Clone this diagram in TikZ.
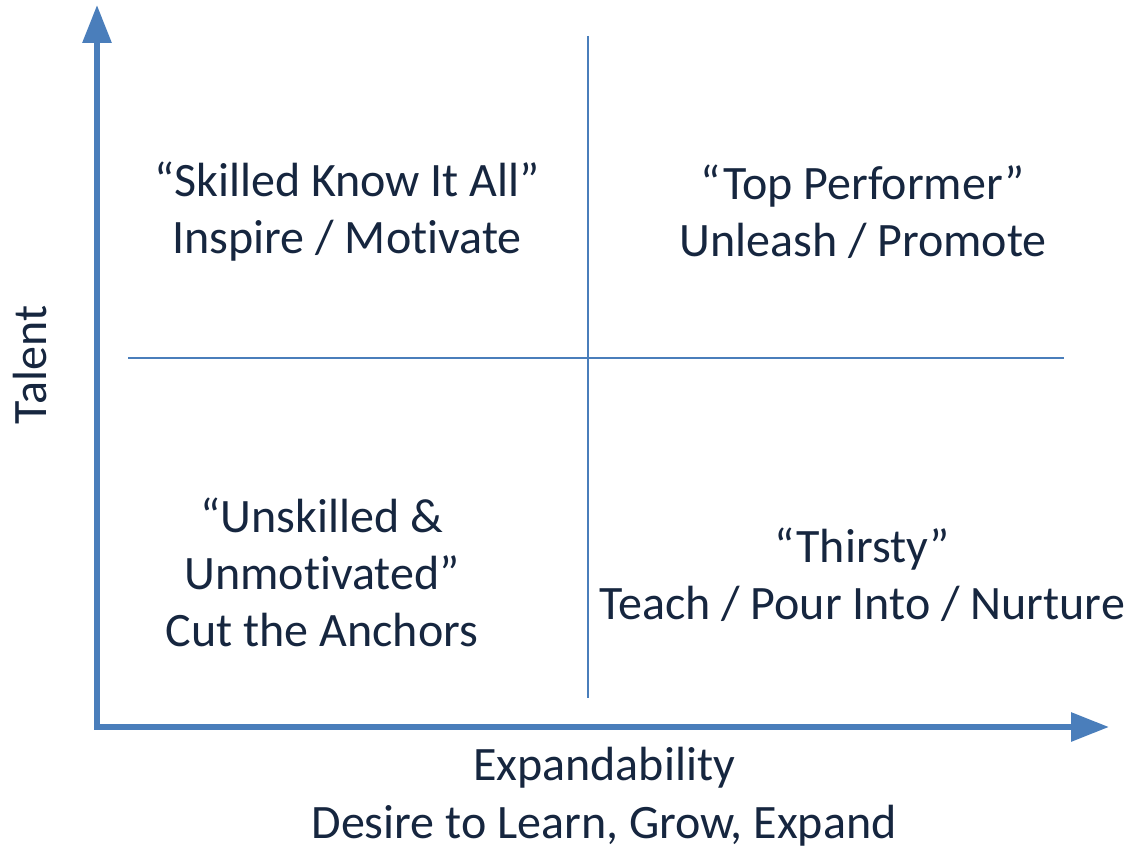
\documentclass[tikz,border=0pt]{standalone}
\usepackage{fontspec}
\setmainfont{Carlito}[Ligatures={NoCommon}]
\usetikzlibrary{arrows.meta}
\definecolor{AxisBlue}{HTML}{4A7EBB}
\definecolor{LabelNavy}{HTML}{16263F}
\tikzset{
    % Axis and grid lines
    axis/.style={
        line width=6pt,
        draw=AxisBlue,
        {Triangle[width=28pt,length=38pt]}-{Triangle[width=28pt,length=38pt]}
    },
    divider/.style={
        line width=1.6pt,
        draw=AxisBlue
    },
    % Text styles
    quadrant/.style={
        align=center,
        text=LabelNavy,
        inner sep=0pt,
        font=\fontsize{48}{57}\selectfont
    },
    axislabel/.style={
        align=center,
        text=LabelNavy,
        inner sep=0pt,
        font=\fontsize{48}{58}\selectfont
    }
}
\begin{document}
\begin{tikzpicture}[x=1pt, y=-1pt]
    \useasboundingbox (0,0) rectangle (1128,850);

    % axes
    \coordinate (ytip) at (97,5);
    \coordinate (xtip) at (1109,727);
    \draw[axis] (ytip) |- (xtip);

    % quadrant dividers
    \coordinate (vtop) at (588,36);
    \coordinate (vbot) at (588,698);
    \coordinate (hleft) at (128,358);
    \coordinate (hright) at (1064,358);
    \draw[divider] (vtop) -- (vbot);
    \draw[divider] (hleft) -- (hright);

    \node[quadrant] (skilled) at (347,212) {``Skilled Know It All''\\Inspire / Motivate};
    \node[quadrant] (top) at (863,212) {``Top Performer''\\Unleash / Promote};
    \node[quadrant] (unskilled) at (322,572) {``Unskilled \&\\Unmotivated''\\Cut the Anchors};
    \node[quadrant] (thirsty) at (862,575) {``Thirsty''\\Teach / Pour Into / Nurture};

    \node[axislabel, rotate=90] (talent) at (30,365) {Talent};
    \node[axislabel] (expand) at (604,797) {Expandability\\Desire to Learn, Grow, Expand};
\end{tikzpicture}
\end{document}
